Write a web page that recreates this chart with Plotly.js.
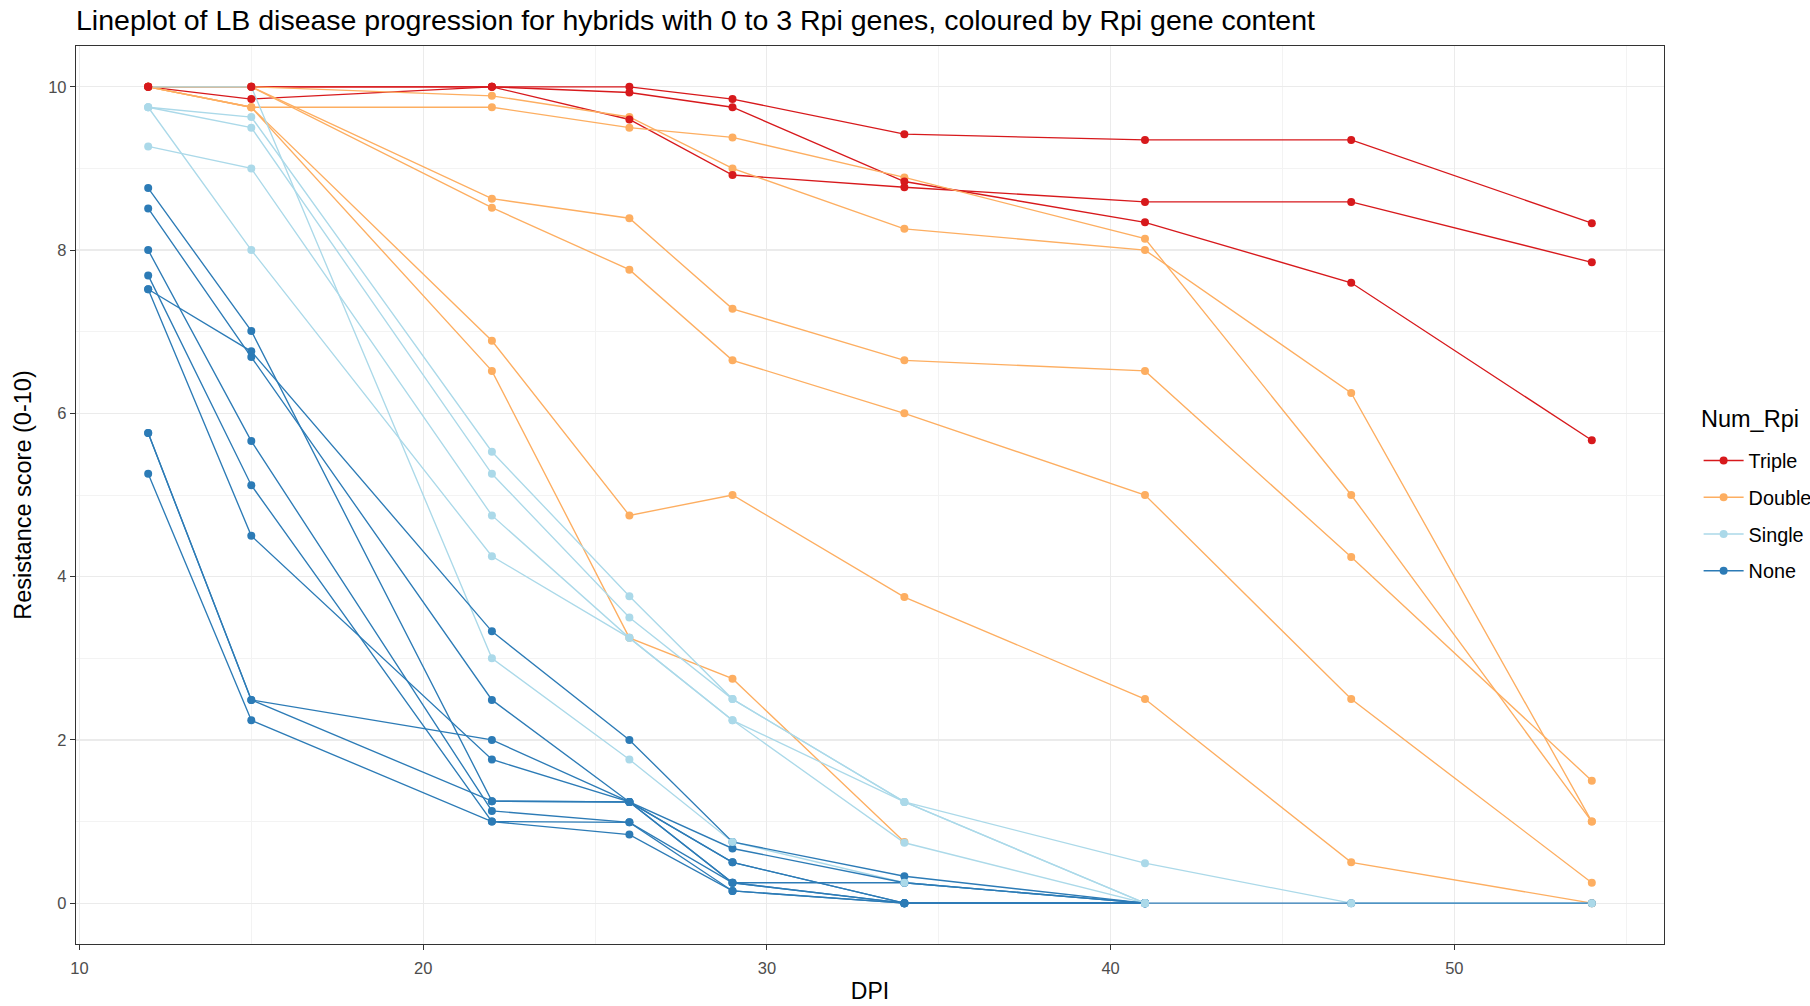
<!DOCTYPE html>
<html>
<head>
<meta charset="utf-8">
<script src="https://cdn.plot.ly/plotly-3.0.1.min.js"></script>
<style>
  html, body { margin: 0; padding: 0; background: #ffffff; }
  #chart { width: 1810px; height: 1006px; }
</style>
</head>
<body>
<div id="chart"></div>
<script>
// ---- data ----
const dpi = [12, 15, 22, 26, 29, 34, 41, 47, 54];

// Triple
const triple_a = [10, 10, 10, 10, 9.85, 9.42, 9.35, 9.35, 8.33];
const triple_b = [10, 9.85, 10, 9.93, 9.75, 8.84, 8.34, 7.6, 5.67];
const triple_c = [10, 10, 10, 9.6, 8.92, 8.77, 8.59, 8.59, 7.85];

// Double
const double_a = [10, 10, 9.89, 9.63, 9.0, 8.26, 8.0, 6.25, 1.0];
const double_b = [10, 9.75, 9.75, 9.5, 9.38, 8.89, 8.14, 5.0, 1.0];
const double_c = [10, 10, 8.63, 8.39, 7.28, 6.65, 6.52, 4.24, 1.5];
const double_d = [10, 10, 8.52, 7.76, 6.65, 6.0, 5.0, 2.5, 0.25];
const double_e = [10, 9.75, 6.89, 4.75, 5.0, 3.75, 2.5, 0.5, 0];
const double_f = [10, 9.75, 6.52, 3.25, 2.75, 0.75, null, null, null];

// Single
const single_a = [9.75, 9.63, 5.53, 3.76, 2.5, 1.24, 0.49, 0, 0];
const single_b = [9.75, 9.5, 5.26, 3.5, 2.5, 1.24, 0, null, null];
const single_c = [9.27, 9.0, 4.75, 3.25, 2.24, 1.24, 0, null, null];
const single_d = [9.75, 8.0, 4.25, 3.25, 2.24, 0.74, 0, null, null];
const single_e = [10, 10, 3.0, 1.76, 0.75, 0.25, 0, null, null];

// None
const none_a = [8.76, 7.01, 1.25, 1.24, 0.25, 0.25, 0, null, null];
const none_b = [8.51, 6.69, 2.49, 1.24, 0.67, 0.25, 0, null, null];
const none_c = [7.52, 6.76, 3.33, 2.0, 0.75, 0.33, 0, 0, 0];
const none_d = [8.0, 5.66, 1.13, 0.99, 0.25, 0, 0, null, null];
const none_e = [7.69, 5.12, 1.0, 0.84, 0.15, 0, 0, null, null];
const none_f = [7.52, 4.5, 1.76, 1.24, 0.5, 0, 0, null, null];
const none_g = [5.76, 2.49, 2.0, 1.24, 0.5, 0, 0, null, null];
const none_h = [5.76, 2.49, 1.25, 1.24, 0.25, 0, 0, null, null];
const none_i = [5.26, 2.24, 1.0, 0.99, 0.15, 0, 0, null, null];

const groupNames = ["Triple", "Double", "Single", "None"];
const groupColors = ["#D7191C", "#FDAE61", "#ABD9E9", "#2C7BB6"];
const groupSeries = [
  [triple_a, triple_b, triple_c],
  [double_a, double_b, double_c, double_d, double_e, double_f],
  [single_a, single_b, single_c, single_d, single_e],
  [none_a, none_b, none_c, none_d, none_e, none_f, none_g, none_h, none_i]
];

// ---- build traces ----
function joined(seriesList) {
  const xs = [], ys = [];
  seriesList.forEach(function (s) {
    for (let i = 0; i < dpi.length; i++) {
      if (s[i] !== null) { xs.push(dpi[i]); ys.push(s[i]); }
      else { xs.push(null); ys.push(null); }
    }
    xs.push(null); ys.push(null);
  });
  return { x: xs, y: ys };
}

const traces = [];
// lines first (drawn under all points, as in the reference)
groupSeries.forEach(function (list, g) {
  const d = joined(list);
  traces.push({
    type: "scatter", mode: "lines", x: d.x, y: d.y,
    line: { color: groupColors[g], width: 1.35 },
    connectgaps: false, showlegend: false, hoverinfo: "skip"
  });
});
// points: drawing order Double, None, Single, Triple
[1, 3, 2, 0].forEach(function (g) {
  const d = joined(groupSeries[g]);
  traces.push({
    type: "scatter", mode: "markers", x: d.x, y: d.y,
    marker: { color: groupColors[g], size: 8 },
    showlegend: false, name: groupNames[g]
  });
});
// legend entries
groupNames.forEach(function (n, g) {
  traces.push({
    type: "scatter", mode: "lines+markers", x: [null], y: [null],
    name: n, legendgroup: n,
    line: { color: groupColors[g], width: 1.35 },
    marker: { color: groupColors[g], size: 8 },
    showlegend: true
  });
});

const font = "Liberation Sans, Arial, sans-serif";
const layout = {
  width: 1810, height: 1006,
  paper_bgcolor: "#ffffff", plot_bgcolor: "#ffffff",
  margin: { l: 76, r: 146, t: 46, b: 62, autoexpand: false },
  font: { family: font, color: "#000000" },
  title: {
    text: "Lineplot of LB disease progression for hybrids with 0 to 3 Rpi genes, coloured by Rpi gene content",
    font: { family: font, size: 28.5, color: "#000000" },
    x: 0, xref: "paper", xanchor: "left",
    y: 0.980, yref: "container", yanchor: "middle"
  },
  xaxis: {
    range: [9.9, 56.1],
    tickvals: [10, 20, 30, 40, 50],
    ticktext: ["10", "20", "30", "40", "50"],
    ticks: "outside", ticklen: 5, tickwidth: 1, tickcolor: "#333333",
    ticklabelstandoff: 4,
    tickfont: { family: font, size: 16.5, color: "#4d4d4d" },
    showgrid: true, gridcolor: "#ebebeb", gridwidth: 1.2,
    minor: { tickvals: [15, 25, 35, 45, 55], showgrid: true, gridcolor: "#f3f3f3", gridwidth: 1, ticks: "" },
    zeroline: false,
    showline: true, mirror: true, linecolor: "#333333", linewidth: 1.2,
    title: { text: "DPI", font: { family: font, size: 23, color: "#000000" }, standoff: 6 }
  },
  yaxis: {
    range: [-0.5, 10.5],
    tickvals: [0, 2, 4, 6, 8, 10],
    ticktext: ["0", "2", "4", "6", "8", "10"],
    ticks: "outside", ticklen: 5, tickwidth: 1, tickcolor: "#333333",
    tickfont: { family: font, size: 16.5, color: "#4d4d4d" },
    showgrid: true, gridcolor: "#ebebeb", gridwidth: 1.2,
    minor: { tickvals: [1, 3, 5, 7, 9], showgrid: true, gridcolor: "#f3f3f3", gridwidth: 1, ticks: "" },
    zeroline: false,
    showline: true, mirror: true, linecolor: "#333333", linewidth: 1.2,
    title: { text: "Resistance score (0-10)", font: { family: font, size: 23.5, color: "#000000" }, standoff: 10 }
  },
  legend: {
    x: 1.0218, xanchor: "left", y: 0.560, yanchor: "top",
    font: { family: font, size: 19.8, color: "#000000" },
    traceorder: "grouped", tracegroupgap: 8,
    itemwidth: 40, bgcolor: "rgba(0,0,0,0)"
  },
  annotations: [{
    text: "Num_Rpi", xref: "paper", yref: "paper",
    x: 1.022, y: 0.5846, xanchor: "left", yanchor: "middle",
    showarrow: false, font: { family: font, size: 23.5, color: "#000000" }
  }],
  showlegend: true
};

Plotly.newPlot("chart", traces, layout, { displayModeBar: false, staticPlot: true });
</script>
</body>
</html>
